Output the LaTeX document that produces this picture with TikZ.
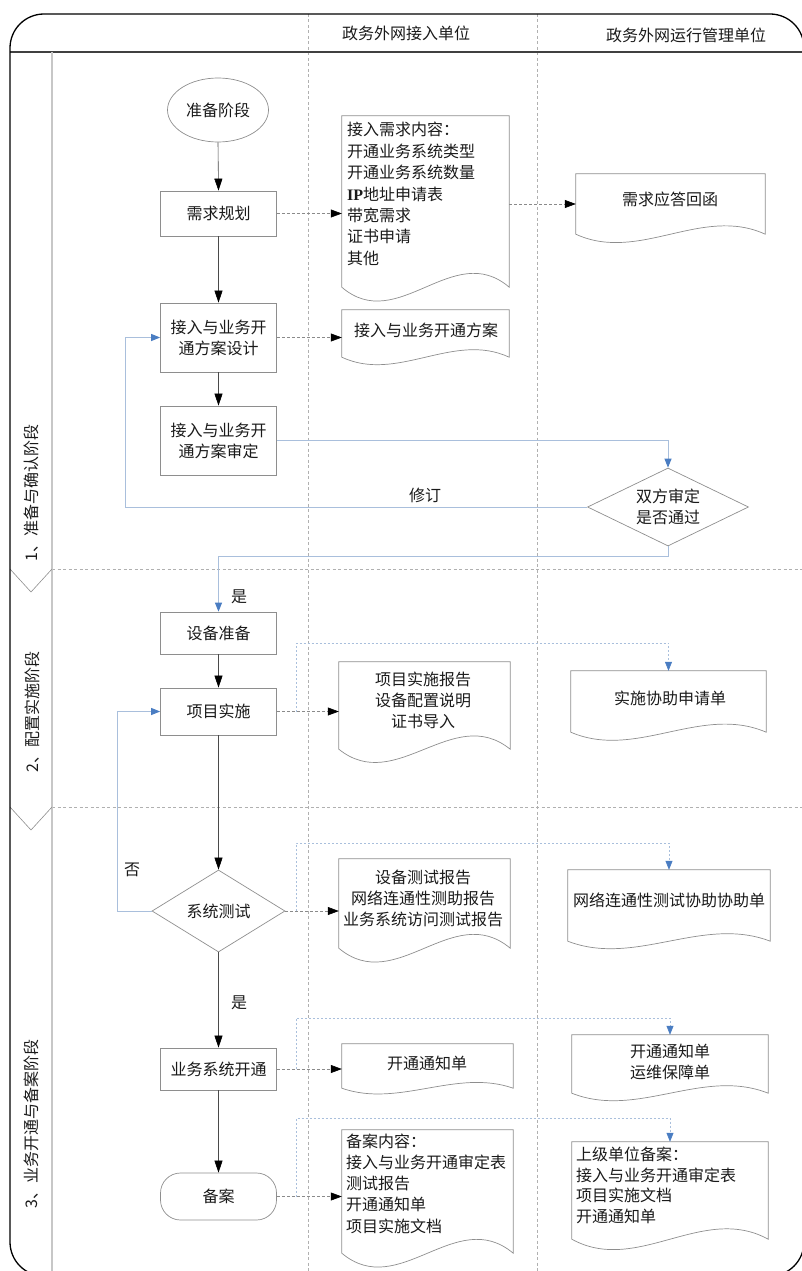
\documentclass[tikz,border=0pt]{standalone}
\usepackage{fontspec}
\setmainfont{Noto Sans CJK SC}
\newfontfamily\lserif{Liberation Serif}
\usetikzlibrary{arrows.meta,shapes.geometric,calc}
\definecolor{bd}{HTML}{8E8E8E}
\definecolor{ln}{HTML}{4A4A4A}
\definecolor{bl}{HTML}{A9BFDC}
\definecolor{bla}{HTML}{4A7DC2}
\definecolor{dsh}{HTML}{8A8A8A}
\definecolor{lane}{HTML}{B0B0B0}
\definecolor{tx}{HTML}{1A1A1A}
\newcommand\docout[2]{\draw[docline] (#1.north west) -- (#1.north east) -- (#1.south east)
  .. controls ($(#1.south east)!0.3333!(#1.south west)+(0,-#2)$) and ($(#1.south east)!0.6667!(#1.south west)+(0,#2)$) .. (#1.south west) -- cycle;}
\tikzset{
  every node/.style={font=\fontsize{16}{21}\selectfont, text=tx},
  proc/.style={draw=bd, line width=0.7pt, rectangle, minimum width=116pt, inner sep=0pt, align=center, fill=white},
  startnode/.style={draw=bd, line width=0.7pt, ellipse, minimum width=101pt, minimum height=64pt, inner sep=0pt},
  decide/.style={draw=bd, line width=0.7pt, diamond, inner sep=0pt, align=center},
  doc/.style={inner sep=0pt},
  docline/.style={draw=bd, line width=0.7pt},
  txt/.style={inner sep=0pt},
  lbl/.style={inner sep=1pt},
  flow/.style={draw=ln, line width=0.6pt, -{Triangle[length=12pt,width=8pt,color=black]}},
  bflow/.style={draw=bl, line width=1pt, -{Triangle[length=9pt,width=7pt,color=bla]}},
  dflow/.style={draw=dsh, line width=0.6pt, dash pattern=on 3pt off 2pt, -{Triangle[length=11pt,width=8pt,color=black]}},
  branch/.style={draw=bl, line width=0.7pt, dash pattern=on 2pt off 2pt, -{Triangle[length=9pt,width=7pt,color=bla]}},
  laneline/.style={draw=lane, line width=0.6pt, dash pattern=on 3pt off 2.5pt},
  phaselabel/.style={rotate=90, inner sep=0pt}
}
\begin{document}
\begin{tikzpicture}[x=1pt,y=-1pt]
\useasboundingbox (0,0) rectangle (802,1271);
% frame and lanes
\draw[laneline] (308,14) -- (308,1276);
\draw[laneline] (537,14) -- (537,1276);
\draw[laneline] (52,569) -- (804,569);
\draw[laneline] (52,807) -- (804,807);
\draw[draw=black!75, line width=1.3pt] (10,52) -- (804,52);
\draw[draw=black!22, line width=1.6pt] (52,52) -- (52,1276);
\draw[draw=bd, line width=0.6pt] (10,569) -- (31,592) -- (52,569);
\draw[draw=bd, line width=0.6pt] (10,807) -- (31,830) -- (52,807);
\draw[black, line width=1.3pt, rounded corners=34pt] (10,14) rectangle (804,1276);
% headers
\node[txt] (h1) at (406,33) {政务外网接入单位};
\node[txt] (h2) at (686,35) {政务外网运行管理单位};
% phase labels
\node[phaselabel] (p1) at (31,493) {1、准备与确认阶段};
\node[phaselabel] (p2) at (32,712) {2、配置实施阶段};
\node[phaselabel] (p3) at (31,1124) {3、业务开通与备案阶段};
% process nodes
\node[startnode] (start) at (218,110) {准备阶段};
\node[proc, minimum height=45pt] (s1) at (218.5,213.5) {需求规划};
\node[proc, minimum height=69pt] (s2) at (218.5,337.5) {接入与业务开\\通方案设计};
\node[proc, minimum height=69pt] (s3) at (218.5,440.5) {接入与业务开\\通方案审定};
\node[decide, minimum width=161pt, minimum height=78pt, aspect=2.06] (dia) at (668,507) {双方审定\\是否通过};
\node[proc, minimum height=42pt] (s4) at (218.5,633) {设备准备};
\node[proc, minimum height=47pt] (s5) at (218.5,711.5) {项目实施};
\node[decide, minimum width=133pt, minimum height=82pt, aspect=1.62] (t1) at (218.5,911) {系统测试};
\node[proc, minimum height=42pt] (s6) at (218.5,1069) {业务系统开通};
\node[proc, minimum height=47pt, rounded corners=20pt] (s7) at (218.5,1196.5) {备案};
% documents lane 2
\node[doc, minimum width=167pt, minimum height=171pt] (d1) at (425.5,201.5) {};
\docout{d1}{48}
\node[txt, anchor=west, align=left, font=\fontsize{16}{21.4}\selectfont] (d1t) at (347,194) {接入需求内容：\\开通业务系统类型\\开通业务系统数量\\{\lserif\bfseries IP}地址申请表\\带宽需求\\证书申请\\其他};
\node[doc, minimum width=167pt, minimum height=47pt] (d2) at (425.5,333.5) {};
\docout{d2}{26}
\node[txt] (d2t) at (426,330) {接入与业务开通方案};
\node[doc, minimum width=171pt, minimum height=87pt] (d3) at (424.5,705.5) {};
\docout{d3}{46}
\node[txt, align=center] (d3t) at (423,700) {项目实施报告\\设备配置说明\\证书导入};
\node[doc, minimum width=171pt, minimum height=89pt] (d4) at (424.5,903.5) {};
\docout{d4}{48}
\node[txt, align=center] (d4t) at (423,898) {设备测试报告\\网络连通性测助报告\\业务系统访问测试报告};
\node[doc, minimum width=171pt, minimum height=44pt] (d5) at (427.5,1066) {};
\docout{d5}{20}
\node[txt] (d5t) at (427,1063) {开通通知单};
\node[doc, minimum width=171pt, minimum height=123pt] (d6) at (427.5,1191.5) {};
\docout{d6}{48}
\node[txt, anchor=west, align=left, font=\fontsize{16}{21.2}\selectfont] (d6t) at (346,1183.5) {备案内容：\\接入与业务开通审定表\\测试报告\\开通通知单\\项目实施文档};
% documents lane 3
\node[doc, minimum width=189pt, minimum height=60pt] (e1) at (670.5,204) {};
\docout{e1}{29}
\node[txt] (e1t) at (670,199) {需求应答回函};
\node[doc, minimum width=195pt, minimum height=61pt] (e2) at (668.5,701.5) {};
\docout{e2}{28}
\node[txt] (e2t) at (670,698) {实施协助申请单};
\node[doc, minimum width=202pt, minimum height=71pt] (e3) at (669,905.5) {};
\docout{e3}{26}
\node[txt] (e3t) at (669,900) {网络连通性测试协助协助单};
\node[doc, minimum width=196pt, minimum height=58pt] (e4) at (670,1064) {};
\docout{e4}{26}
\node[txt, align=center] (e4t) at (670,1061.5) {开通通知单\\运维保障单};
\node[doc, minimum width=196pt, minimum height=97pt] (e5) at (670,1190.5) {};
\docout{e5}{36}
\node[txt, anchor=west, align=left, font=\fontsize{16}{20.7}\selectfont] (e5t) at (576,1185.5) {上级单位备案：\\接入与业务开通审定表\\项目实施文档\\开通通知单};
% main flow
\draw[flow] (start.south) -- (s1.north);
\draw[flow] (s1.south) -- (s2.north);
\draw[flow] (s2.south) -- (s3.north);
\draw[flow] (s4.south) -- (s5.north);
\draw[flow] (s5.south) -- (t1.north);
\draw[flow] (t1.south) -- (s6.north);
\draw[flow] (s6.south) -- (s7.north);
% blue flows
\coordinate (rv) at (125,507);
\coordinate (nv) at (117,911);
\draw[bflow] (s3.east) -| (dia.north);
\draw[bflow] (dia.west) -- (rv) |- (s2.west);
\draw[bflow] (dia.south) -- ++(0,10) -| (s4.north);
\draw[bflow] (t1.west) -- (nv) |- (s5.west);
\node[lbl] (l1) at (425,495) {修订};
\node[lbl] (l2) at (239,597) {是};
\node[lbl] (l3) at (132,870) {否};
\node[lbl] (l4) at (239,1003) {是};
% dashed document flows
\draw[dflow] (s1.east) -- (s1.east -| d1.west);
\draw[dflow] (e1.west -| d1.east) -- (e1.west);
\draw[dflow] (s2.east) -- (s2.east -| d2.west);
\draw[dflow] (s5.east) -- (s5.east -| d3.west);
\draw[dflow] (t1.east) -- (t1.east -| d4.west);
\draw[dflow] (s6.east) -- (s6.east -| d5.west);
\draw[dflow] (s7.east) -- (s7.east -| d6.west);
% branches to lane 3
\coordinate (b1) at (296,711.5);
\coordinate (b2) at (296,911);
\coordinate (b3) at (296,1069);
\coordinate (b4) at (296,1196.5);
\draw[branch] (b1) -- ++(0,-68.5) -| (e2.north);
\draw[branch] (b2) -- ++(0,-68) -| (e3.north);
\draw[branch] (b3) -- ++(0,-51) -| (e4.north);
\draw[branch] (b4) -- ++(0,-78.5) -| (e5.north);
\end{tikzpicture}
\end{document}
